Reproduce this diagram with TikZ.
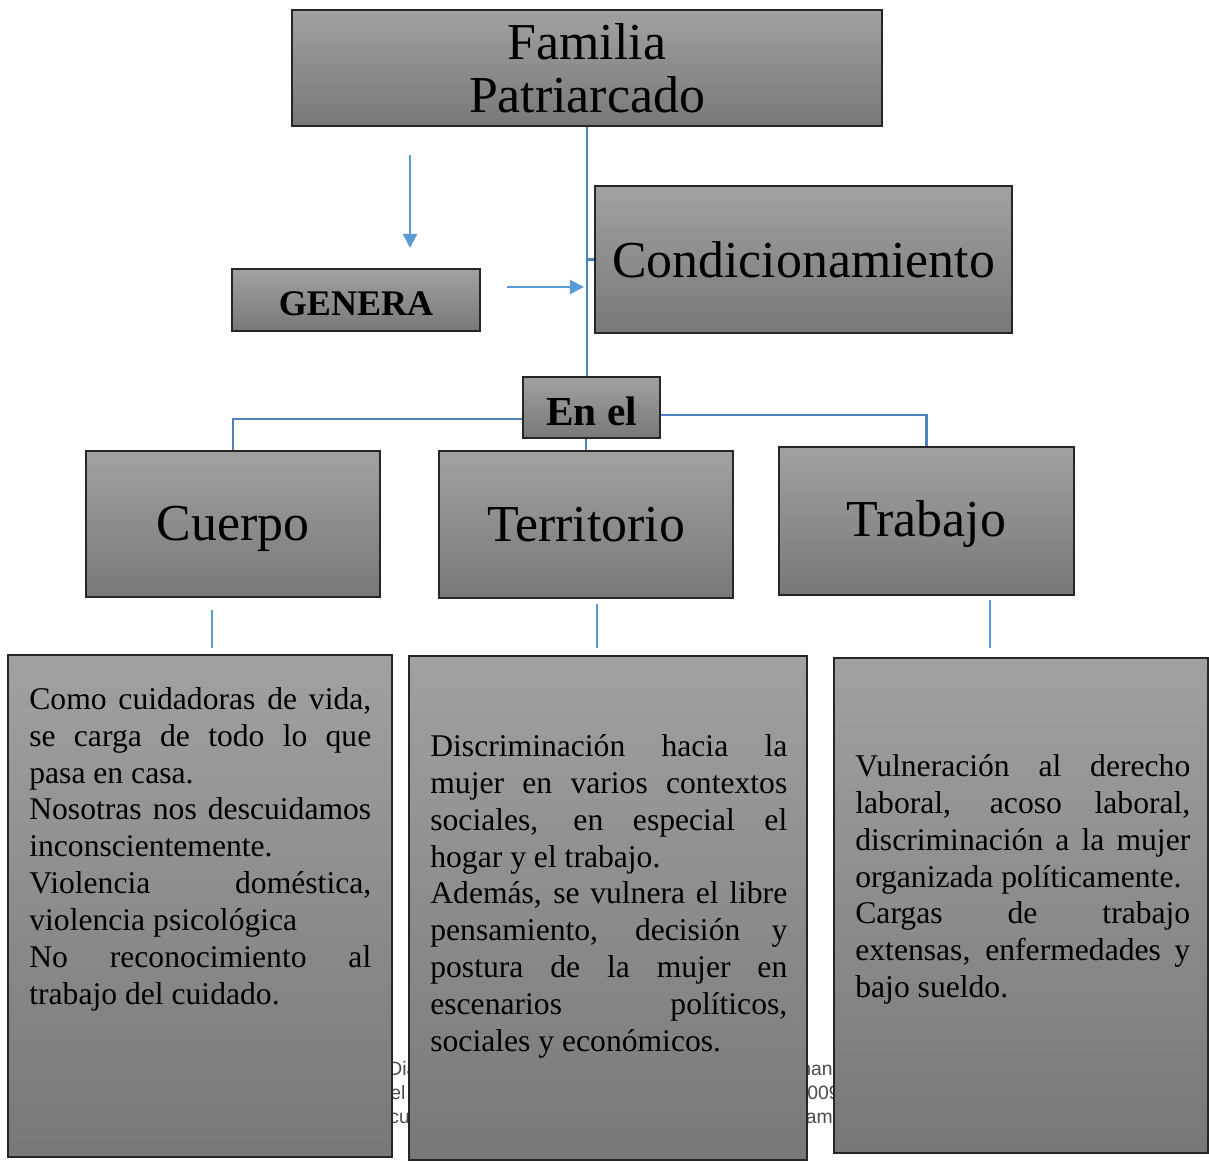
\documentclass[tikz,border=0pt]{standalone}
\usepackage{fontspec}
\setmainfont{Liberation Serif}
\newfontfamily\fragfont{Liberation Sans}
\usetikzlibrary{arrows.meta}
\hyphenpenalty=10000
\exhyphenpenalty=10000
\definecolor{boxtop}{RGB}{161,161,161}
\definecolor{boxbottom}{RGB}{120,120,120}
\definecolor{linkblue}{RGB}{79,129,189}
\definecolor{arrowblue}{RGB}{91,155,213}
\tikzset{
    base/.style={draw=black!85, line width=0.7pt, align=center, top color=boxtop, bottom color=boxbottom, inner sep=0pt},
    titlebox/.style={base, font=\fontsize{29.5}{30}\selectfont},
    labelbox/.style={base, font=\bfseries\fontsize{20.5}{22}\selectfont},
    desc/.style={inner sep=0pt, anchor=north west, align=justify, font=\fontsize{18}{21}\selectfont},
    frag/.style={inner sep=0pt, text=black!70, font=\fragfont\fontsize{11}{13}\selectfont},
    link/.style={draw=linkblue, line width=1.2pt},
    arrow/.style={-{Triangle[length=8pt,width=8pt]}, draw=arrowblue, line width=1.2pt},
    tick/.style={draw=arrowblue, line width=1.2pt}
}

\begin{document}
\begin{tikzpicture}[x=0.02cm, y=-0.02cm]
    \useasboundingbox (0,0) rectangle (1209,1163);

    % Hidden caption behind the lower boxes
    \node[frag, anchor=base west] (fragA) at (388,1075) {Dia};
    \node[frag, anchor=base west] (fragB) at (390,1099) {el};
    \node[frag, anchor=base west] (fragC) at (389,1123) {cu};
    \node[frag, anchor=base east] (fragD) at (833,1075) {man};
    \node[frag, anchor=base east] (fragE) at (840,1099) {009};
    \node[frag, anchor=base east] (fragF) at (833,1123) {am};

    % Top part
    \node[titlebox, minimum width=11.8cm, minimum height=2.32cm] (familia) at (587,68) {Familia\\Patriarcado};
    \node[titlebox, minimum width=8.34cm, minimum height=2.94cm] (condic) at (803.5,259.5) {Condicionamiento};
    \node[labelbox, text height=17.3pt, minimum width=4.96cm, minimum height=1.24cm] (genera) at (356,300) {GENERA};
    \node[labelbox, font=\bfseries\fontsize{23.5}{25}\selectfont, text height=21pt, minimum width=2.74cm, minimum height=1.22cm] (enel) at (591.5,407.5) {En el};

    % Three areas
    \node[titlebox, text height=24.6pt, minimum width=5.88cm, minimum height=2.92cm] (cuerpo) at (233,524) {Cuerpo};
    \node[titlebox, minimum width=5.88cm, minimum height=2.94cm] (territorio) at (586,524.5) {Territorio};
    \node[titlebox, text height=23.5pt, minimum width=5.9cm, minimum height=2.96cm] (trabajo) at (926.5,521) {Trabajo};

    % Lower boxes
    \node[base, minimum width=7.68cm, minimum height=10.04cm] (cuerpobox) at (200,906) {};
    \node[base, minimum width=7.96cm, minimum height=10.08cm] (territoriobox) at (608,908) {};
    \node[base, minimum width=7.48cm, minimum height=9.9cm] (trabajobox) at (1021,905.5) {};

    \node[desc, text width=6.84cm] (cuerpotext) at (29,687) {Como cuidadoras de vida, \linebreak se carga de todo lo que \linebreak pasa en casa.\par Nosotras nos descuidamos \linebreak inconscientemente.\par Violencia doméstica, \linebreak violencia psicológica\par No reconocimiento al \linebreak trabajo del cuidado.};
    \node[desc, text width=7.14cm] (territoriotext) at (430,734) {Discriminación hacia la \linebreak mujer en varios contextos \linebreak sociales, en especial el \linebreak hogar y el trabajo.\par Además, se vulnera el libre \linebreak pensamiento, decisión y \linebreak postura de la mujer en \linebreak escenarios políticos, \linebreak sociales y económicos.};
    \node[desc, text width=6.7cm] (trabajotext) at (855,754) {Vulneración al derecho \linebreak laboral, acoso laboral, \linebreak discriminación a la mujer \linebreak organizada políticamente.\par Cargas de trabajo \linebreak extensas, enfermedades y \linebreak bajo sueldo.};

    % Connectors
    \draw[link] (familia.south) -- (familia.south |- enel.north);
    \draw[link] (familia.south |- condic.west) -- (condic.west);
    \draw[link] (enel.south -| territorio.north) -- (territorio.north);
    \draw[link] ([yshift=-0.23cm]enel.west) -| (cuerpo.north);
    \draw[link] ([yshift=-0.15cm]enel.east) -| (trabajo.north);

    % Loose arrows
    \coordinate (downstart) at (410,155);
    \coordinate (downend) at (410,248);
    \coordinate (rightstart) at (507,287);
    \coordinate (rightend) at (584,287);
    \draw[arrow] (downstart) -- (downend);
    \draw[arrow] (rightstart) -- (rightend);

    % Short marks under the areas
    \coordinate (tickAtop) at (212,610);
    \coordinate (tickAbot) at (212,648);
    \coordinate (tickBtop) at (597,604);
    \coordinate (tickBbot) at (597,648);
    \coordinate (tickCtop) at (990,600);
    \coordinate (tickCbot) at (990,648);
    \draw[tick] (tickAtop) -- (tickAbot);
    \draw[tick] (tickBtop) -- (tickBbot);
    \draw[tick] (tickCtop) -- (tickCbot);
\end{tikzpicture}
\end{document}
